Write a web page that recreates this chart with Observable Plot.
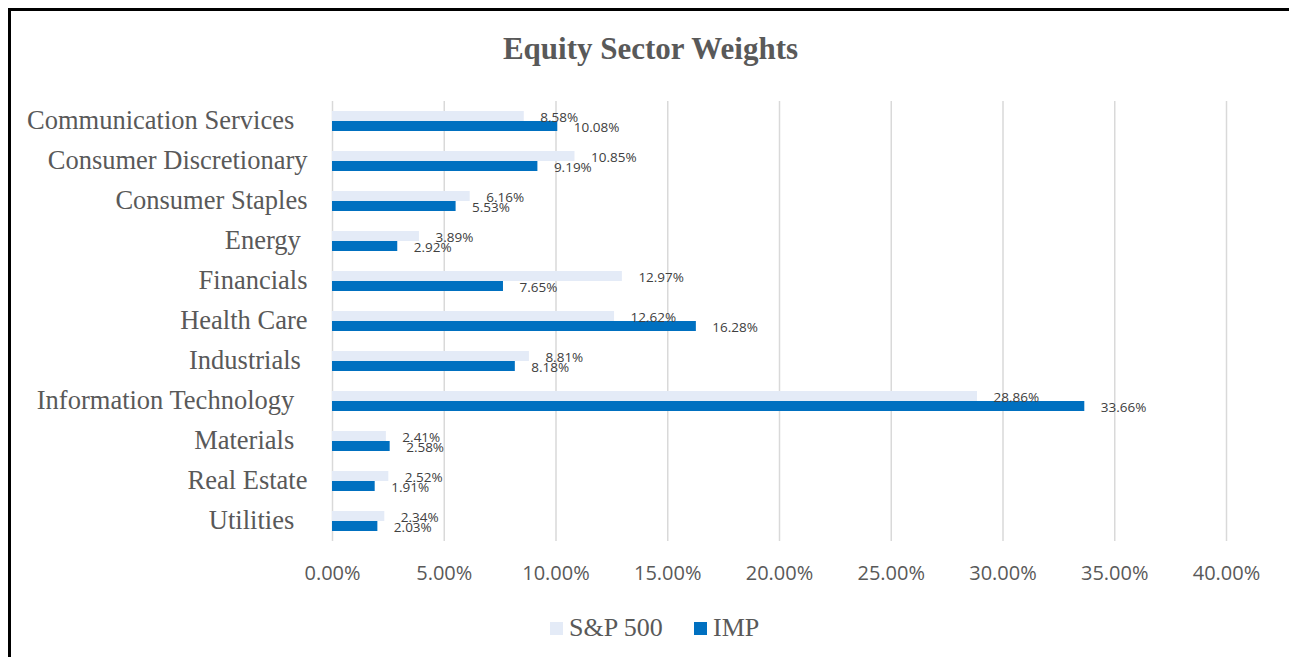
<!DOCTYPE html>
<html>
<head>
<meta charset="utf-8">
<script src="https://cdn.jsdelivr.net/npm/d3@7"></script>
<script src="https://cdn.jsdelivr.net/npm/@observablehq/plot@0.6"></script>
<style>
  html, body { margin: 0; padding: 0; background: #fff; overflow: hidden; }
  #page { position: relative; width: 1289px; height: 657px; overflow: hidden; }
  #frame { position: absolute; left: 8px; top: 8px; width: 1400px; height: 800px;
           border-left: 3px solid #000; border-top: 3px solid #000; box-sizing: border-box; }
  #title { position: absolute; left: 0; width: 1301px; top: 31px; text-align: center;
           font-family: "Liberation Serif", "Times New Roman", serif; font-weight: bold;
           font-size: 31px; color: #595959; }
  #chart { position: absolute; left: 0; top: 0; }
  #legend { position: absolute; left: 0; top: 610px; width: 1289px; height: 36px;
            font-family: "Liberation Serif", "Times New Roman", serif; font-size: 26px; color: #595959; }
  .item { position: absolute; top: 0; line-height: 36px; white-space: nowrap; }
  .sw { display: inline-block; width: 13px; height: 13px; margin-right: 6px; vertical-align: 1px; }
  g[aria-label="x-axis tick label"] text { font-family: "Open Sans", sans-serif; font-size: 20px; fill: #595959; }
  g[aria-label="fy-axis tick label"] text { font-family: "Liberation Serif", "Times New Roman", serif; font-size: 26.5px; fill: #595959; }
</style>
</head>
<body>
<div id="page">
  <div id="frame"></div>
  <div id="title">Equity Sector Weights</div>
  <div id="chart"></div>
  <div id="legend"></div>
</div>
<script>
const categories = [
  "Communication Services  ",
  "Consumer Discretionary",
  "Consumer Staples",
  "Energy ",
  "Financials",
  "Health Care",
  "Industrials ",
  "Information Technology  ",
  "Materials  ",
  "Real Estate",
  "Utilities  "
];
const seriesNames = ["S&P 500", "IMP"];
const sp500 = [8.58, 10.85, 6.16, 3.89, 12.97, 12.62, 8.81, 28.86, 2.41, 2.52, 2.34];
const imp   = [10.08, 9.19, 5.53, 2.92, 7.65, 16.28, 8.18, 33.66, 2.58, 1.91, 2.03];
const colors = ["#E4EBF7", "#0070C0"];
const xTicks = [0, 5, 10, 15, 20, 25, 30, 35, 40];

const rows = categories.flatMap((c, i) => [
  {cat: c, series: seriesNames[0], v: sp500[i]},
  {cat: c, series: seriesNames[1], v: imp[i]}
]);
const pct = d => d.toFixed(2) + "%";

const chart = Plot.plot({
  width: 1289,
  height: 600,
  marginTop: 99,
  marginBottom: 57,
  marginLeft: 332,
  marginRight: 63,
  style: {background: "transparent", overflow: "visible"},
  x: {domain: [0, 40]},
  y: {domain: seriesNames, paddingInner: 0, paddingOuter: 1, axis: null},
  fy: {domain: categories, padding: 0},
  color: {domain: seriesNames, range: colors},
  marks: [
    Plot.gridX(xTicks, {stroke: "#d9d9d9", strokeOpacity: 1, strokeWidth: 1.5}),
    Plot.barX(rows, {x: "v", y: "series", fy: "cat", fill: "series"}),
    Plot.text(rows, {
      x: "v", y: "series", fy: "cat", text: d => pct(d.v),
      textAnchor: "start", dx: 16, dy: 1,
      fontFamily: "Open Sans, sans-serif", fontSize: 13.5, fill: "#404040"
    }),
    Plot.axisX({ticks: xTicks, tickFormat: pct, tickSize: 0, tickPadding: 24, label: null,
                fontSize: 20, fill: "#595959"}),
    Plot.axisFy({anchor: "left", tickSize: 0, tickPadding: 25, label: null, dy: -1,
                 tickFormat: d => d.replace(/ +$/, m => "\u00a0".repeat(m.length)),
                 fontSize: 26.5, fill: "#595959"})
  ]
});
document.getElementById("chart").appendChild(chart);

const legend = document.getElementById("legend");
const legendLeft = [550, 694];
seriesNames.forEach((s, i) => {
  const item = document.createElement("div");
  item.className = "item";
  item.style.left = legendLeft[i] + "px";
  const sw = document.createElement("span");
  sw.className = "sw";
  sw.style.background = colors[i];
  item.appendChild(sw);
  item.appendChild(document.createTextNode(s));
  legend.appendChild(item);
});
</script>
</body>
</html>
